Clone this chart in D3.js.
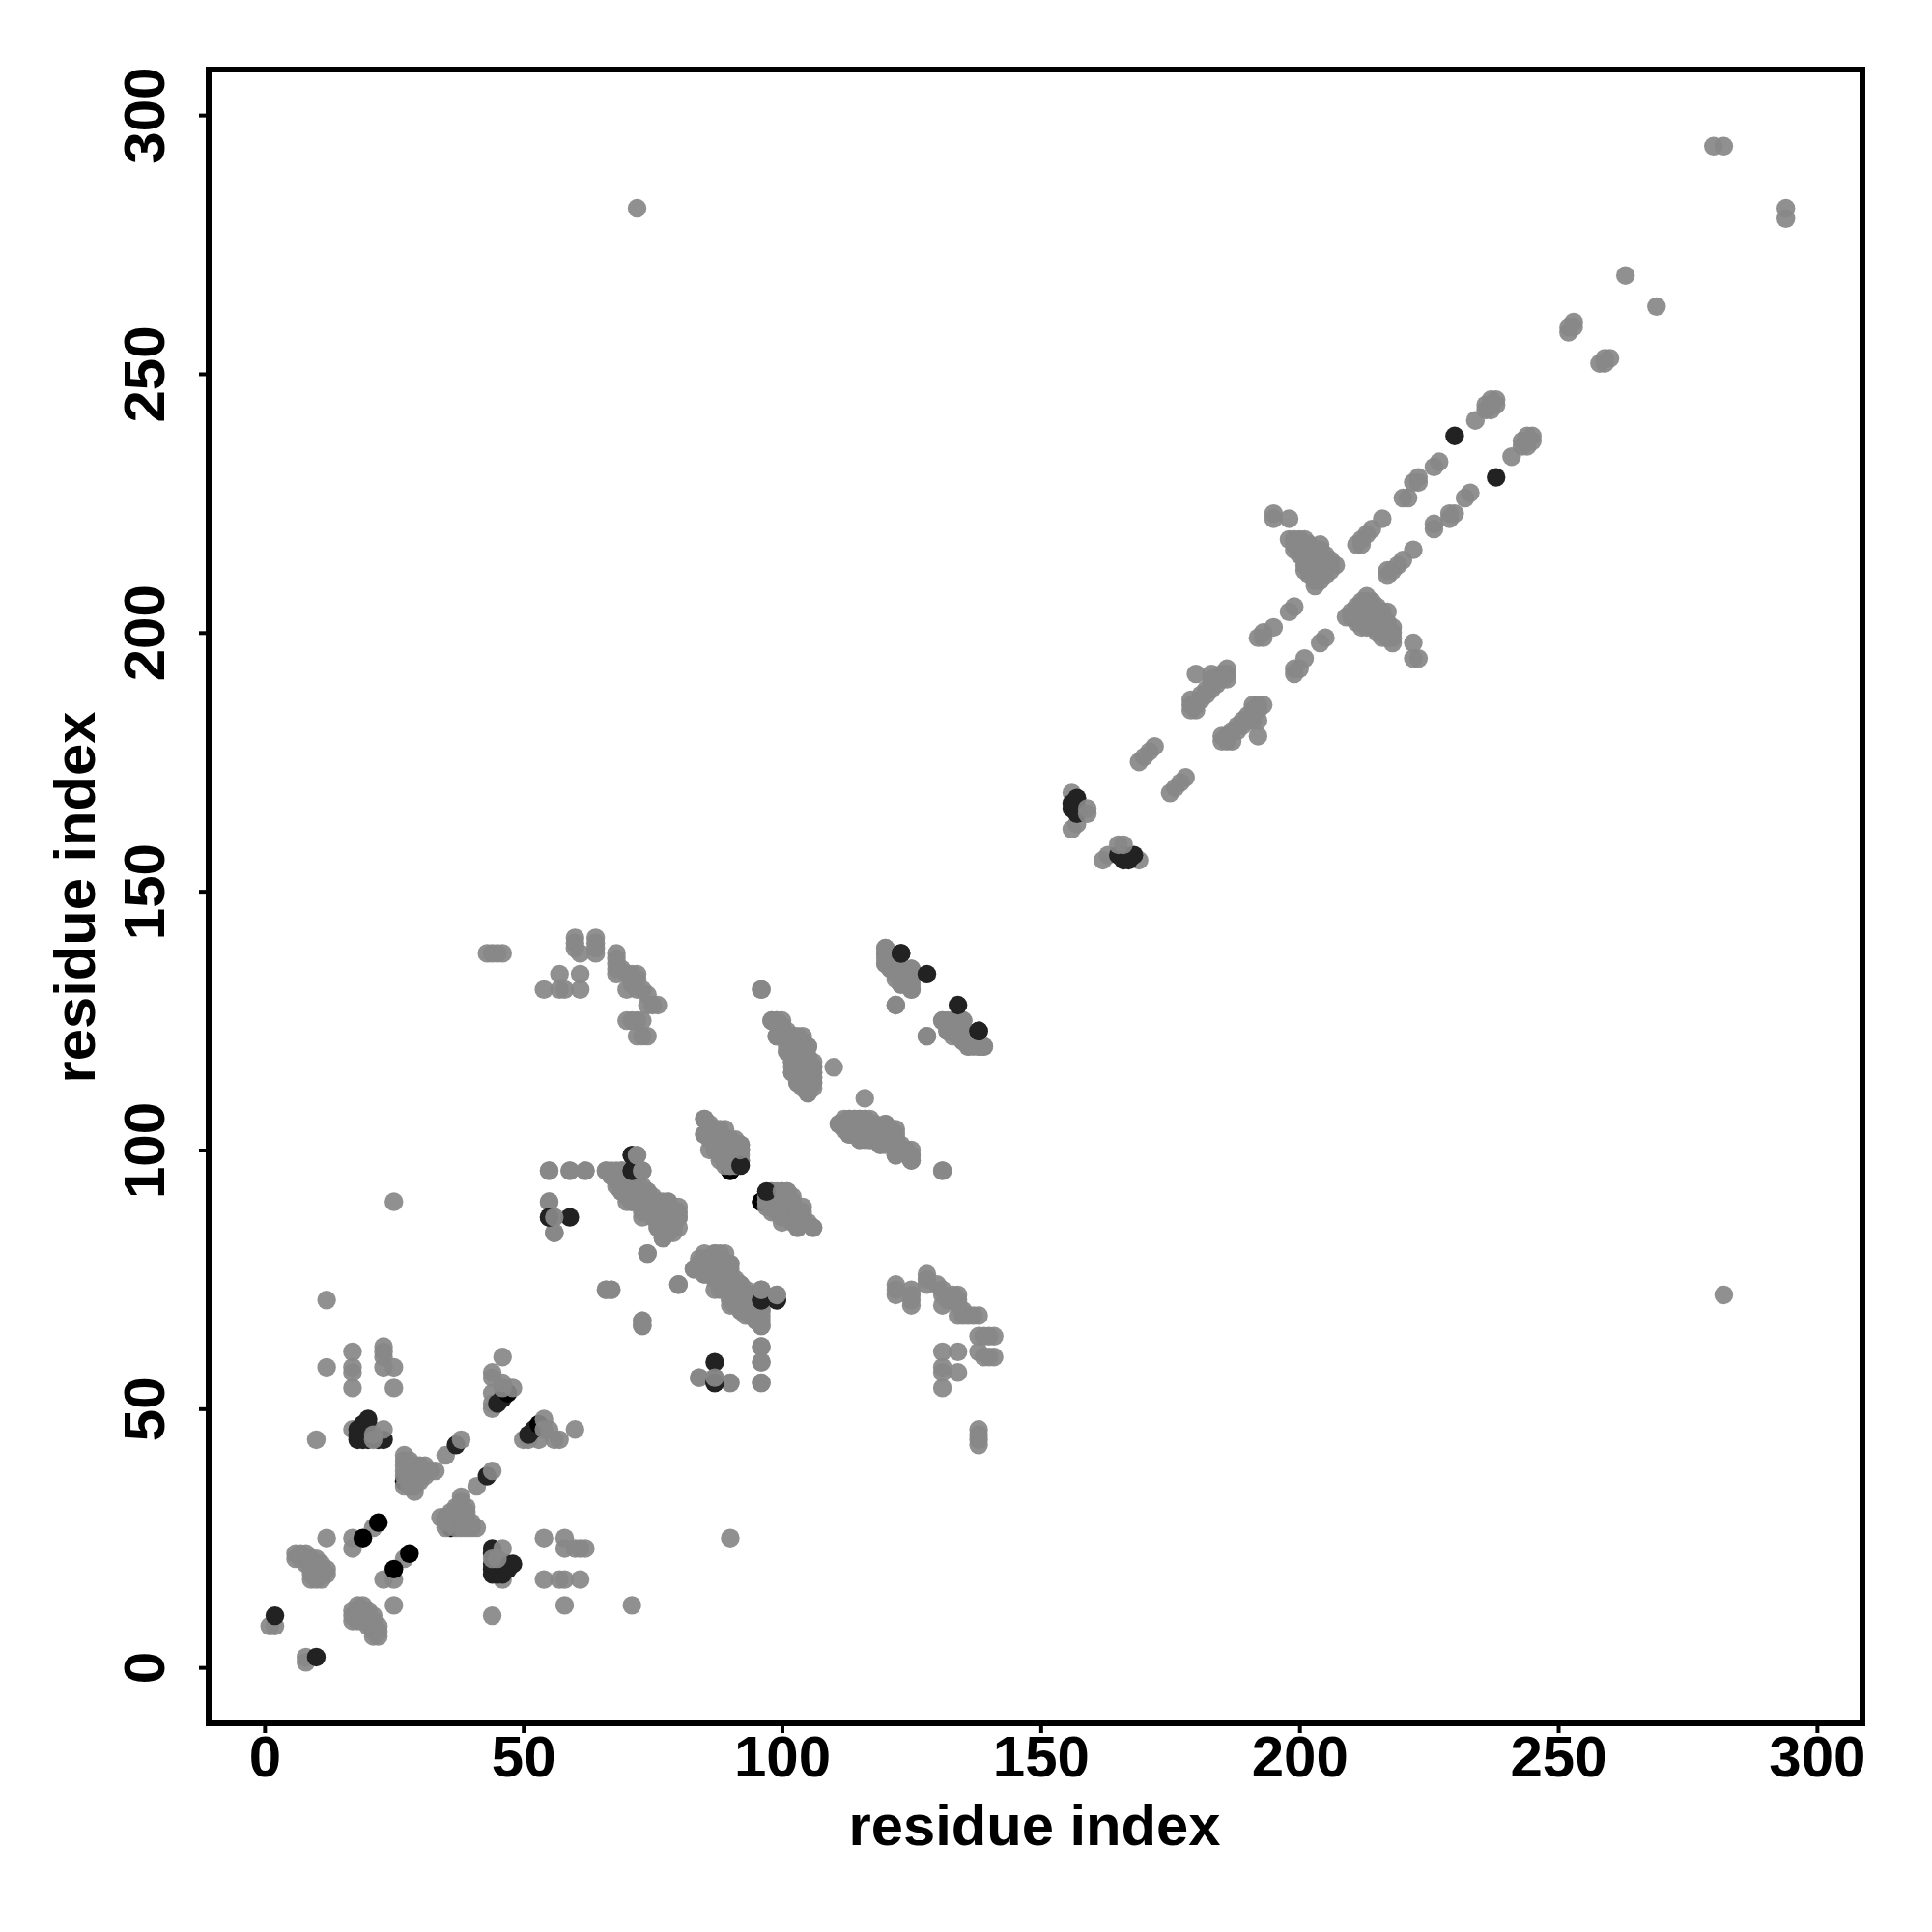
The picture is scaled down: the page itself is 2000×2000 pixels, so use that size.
<!DOCTYPE html>
<html>
<head>
<meta charset="utf-8">
<script src="https://cdn.jsdelivr.net/npm/d3@7"></script>
<style>html,body{margin:0;padding:0;background:#fff}svg{display:block}</style>
</head>
<body>
<script>
// Contacts as [i, j] with i < j; the map is symmetric, so each one is also drawn as [j, i].
const underDarkContacts = [[27,36],[90,96],[96,90]];
const greyContacts = [
[1,8],[2,8],[6,21],[6,22],[7,21],[7,22],[8,20],[8,21],[8,22],[9,17],[9,18],[9,19],[9,20],[9,21],[10,17],[10,18],[10,19],[10,20],[10,21],[11,17],[11,18],[11,19],[11,20],[12,18],[12,19],
[12,25],[17,23],[17,25],[21,27],[12,58],[12,71],[10,44],[17,54],[17,57],[17,58],[17,61],[23,58],[23,60],[23,61],[23,62],[25,54],[25,58],
[17,46],[35,41],[44,50],[44,51],[44,53],[44,56],[44,57],[46,60],
[27,37],[27,38],[27,39],[27,40],[27,41],[28,36],[28,37],[28,38],[28,39],[28,40],[29,34],[29,35],[29,36],[29,37],[29,38],[29,39],[30,36],[30,37],[30,38],[30,39],[31,37],[31,38],[31,39],[32,38],[33,38],[28,35],[27,35],
[55,96],[59,96],[62,96],[66,96],[55,90],[56,84],[56,87],[67,95],[69,96],[68,94],[69,94],[70,94],[71,94],[68,93],[71,93],[72,93],[69,92],[72,92],[74,92],[70,91],[72,91],[74,91],[71,92],[71,90],[72,90],[73,90],[74,90],[76,90],[73,89],[74,89],[75,89],[76,89],[73,91],[73,93],[75,90],[75,88],[73,88],[77,89],[75,87],[76,87],[77,87],[78,87],[78,88],[79,87],[76,86],[77,86],[78,86],[77,85],[78,85],[79,85],[77,84],[78,90],[79,88],[80,88],[80,87],[79,86],[76,85],[78,84],[77,83],[74,80],
[66,73],[67,73],[73,67],[73,66],[80,74],[83,77],[84,78],[85,78],[84,79],[85,80],[86,79],[87,79],[88,79],[87,80],[89,80],[87,78],[88,78],[89,78],[90,78],[88,77],[89,77],[90,77],[90,76],[86,77],[85,76],[87,76],[89,75],[88,75],[88,74],[91,75],[87,73],[89,73],[90,73],[91,73],[92,73],[92,74],[92,72],[90,72],[91,72],[93,72],[93,71],[93,70],[92,71],[92,70],[90,71],[91,70],[90,70],[91,71],[94,72],[94,71],[95,71],[94,70],[95,70],[95,69],[94,69],[93,69],[94,68],[95,68],[95,67],[96,67],[96,69],[96,70],[92,69],[96,68],[96,66],[96,62],[96,59],[96,55],[84,56],[90,55],[90,25],
[85,106],[85,103],[86,105],[86,104],[86,103],[87,103],[88,103],[88,104],[89,104],[87,102],[88,102],[89,102],[90,102],[87,101],[88,101],[89,101],[90,101],[88,99],[89,99],[90,99],[89,100],[90,100],[91,100],[91,99],[90,98],[91,102],[91,101],[92,99],[90,97],[91,98],[92,98],[92,100],[92,101],
[97,91],[98,92],[97,90],[98,91],[98,90],[97,89],[98,88],[99,91],[99,90],[99,89],[99,88],[100,91],[100,90],[100,88],[100,87],[101,92],[101,91],[101,90],[101,89],[101,88],[102,89],[102,88],[102,87],[102,86],[103,87],[103,86],[104,87],[104,86],[100,86],[100,89],[102,90],[103,88],[103,85],[106,85],
[96,131],[98,125],[99,125],[100,125],[100,124],[100,123],[101,123],[99,122],[101,122],[101,121],[102,121],[102,122],[104,122],[103,120],[104,120],[105,120],[101,119],[102,119],[103,119],[104,119],[103,118],[104,118],[105,118],[102,117],[103,117],[104,117],[105,117],[102,116],[103,116],[104,116],[102,115],[103,115],[104,115],[105,115],[106,115],[105,116],[106,116],[103,114],[104,114],[105,114],[106,114],[103,113],[104,113],[105,113],[106,113],[104,112],[105,112],[105,111],[110,116],
[111,105],[112,106],[113,106],[114,106],[115,106],[116,106],[117,106],[112,105],[113,105],[114,105],[115,105],[116,105],[114,104],[113,104],[115,104],[116,104],[113,103],[114,103],[116,103],[118,103],[117,102],[115,102],[120,105],[120,104],[121,104],[120,103],[121,103],[122,103],[120,102],[121,102],[122,102],[119,101],[120,101],[122,101],[123,100],[122,99],[125,99],[125,98],[131,96],[122,128],
[120,139],[120,138],[120,136],[121,137],[121,135],[122,136],[122,134],[123,135],[124,134],[123,133],[125,133],[124,132],[125,135],[123,132],[125,131],[128,122],[131,125],[132,125],[132,123],[133,124],[133,122],[134,123],[135,123],[135,121],[135,125],[134,122],[136,120],[136,121],[137,121],[137,120],[138,120],[139,120],
[43,138],[44,138],[45,138],[46,138],[60,141],[60,140],[60,139],[61,138],[64,141],[64,140],[64,139],[64,138],[57,134],[61,134],[54,131],[57,131],[58,131],[61,131],
[68,138],[68,137],[68,136],[69,135],[68,135],[68,134],[70,134],[71,134],[72,134],[71,133],[72,133],[71,132],[72,131],[74,130],[70,131],[73,131],[74,128],[75,128],[76,128],[70,125],[71,125],[72,125],[73,125],[72,122],[73,122],[74,122],
[72,282],[156,169],[156,162],[157,163],[169,175],[170,176],[171,177],[172,178],[180,192],[183,192],[186,193],[186,192],[186,191],[185,192],[185,191],[184,190],[183,191],[183,190],[183,189],[182,189],[181,188],[181,187],[180,186],[180,185],[179,187],[179,186],[179,185],[182,188],
[192,199],[193,199],[193,200],[195,201],[198,204],[199,205],
[195,223],[195,222],[198,222],[198,218],[199,218],[200,218],[201,218],[199,217],[200,217],[202,217],[204,217],[199,216],[201,216],[202,216],[204,216],[200,215],[203,215],[205,214],[202,214],[201,214],[203,214],[204,214],[206,214],[205,215],[207,213],[201,213],[202,213],[203,213],[204,213],[205,213],[206,213],[201,212],[202,212],[203,212],[205,212],[206,212],[202,211],[203,211],[204,211],[205,211],[203,210],[204,210],[203,209],
[211,217],[212,217],[212,218],[213,219],[214,220],[216,222],[220,226],[221,226],[222,229],[223,229],[223,230],[226,232],[227,233],[234,241],[236,243],[236,244],[237,243],[237,244],[237,245],[238,244],[238,245],
[252,258],[252,259],[253,259],[253,260],[263,269],[280,294],[282,294]
];
const darkContacts = [
[2,10],[23,44],[22,44],[19,44],[18,44],[18,45],[19,45],[18,46],[19,46],[20,46],[19,47],[20,47],[20,48],[20,44],
[37,43],[45,51],[46,52],[55,87],[59,87],[87,55],[71,99],[71,96],[92,97],[96,71],[99,71],
[123,138],[128,134],[138,123],[156,166],[156,167],[157,165],[157,166],[157,168],[230,238]
];
const blackContacts = [[22,28],[19,25],[47,53]];
const topGreyContacts = [
[21,44],[21,45],[23,46],[38,44],[46,54],[46,55],[48,54],[72,99],[73,96],[99,72],[96,73],[100,92],[159,165],[159,166],[56,87]
];
const xTicks = [0,50,100,150,200,250,300];
const yTicks = [0,50,100,150,200,250,300];
const axisLabel = "residue index";

const svg = d3.select("body").append("svg").attr("width",2000).attr("height",2000).style("font-family","'Liberation Sans'").style("font-weight","700");
const x = d3.scaleLinear().domain([-10.8,308.8]).range([216,1928]);
const y = d3.scaleLinear().domain([-10.8,308.8]).range([1784,72]);

function layer(pairs, fill, opacity){
  const both = pairs.flatMap(([i,j]) => [[i,j],[j,i]]);
  svg.append("g").selectAll("circle").data(both).join("circle")
    .attr("cx",d=>x(d[0])).attr("cy",d=>y(d[1])).attr("r",9.7)
    .attr("fill",fill).attr("fill-opacity",opacity);
}
layer(underDarkContacts,"#000",1);
layer(greyContacts,"#888",0.93);
layer(darkContacts,"#222",1);
layer(blackContacts,"#000",1);
layer(topGreyContacts,"#888",0.93);

svg.append("rect").attr("x",216).attr("y",72).attr("width",1712).attr("height",1712)
  .attr("fill","none").attr("stroke","#000").attr("stroke-width",6);

const gx = svg.append("g").attr("transform","translate(0,1784)")
  .call(d3.axisBottom(x).tickValues(xTicks).tickSize(10).tickPadding(1).tickFormat(d3.format("d")));
const gy = svg.append("g").attr("transform","translate(216,0)")
  .call(d3.axisLeft(y).tickValues(yTicks).tickSize(10).tickFormat(d3.format("d")));
[gx,gy].forEach(g=>{
  g.select(".domain").remove();
  g.selectAll(".tick line").attr("stroke","#000").attr("stroke-width",4);
  g.selectAll("text").attr("fill","#000").style("font-size","60px").style("font-family","'Liberation Sans'").style("font-weight","700");
});
gx.selectAll("text").attr("dy",null).attr("y",55).attr("dominant-baseline","auto");
gy.selectAll("text").attr("dy",null).attr("x",null).attr("y",null)
  .attr("text-anchor","middle").attr("transform","translate(-46,0) rotate(-90)");

svg.append("text").attr("x",1071).attr("y",1910).attr("text-anchor","middle").style("font-size","59.7px").text(axisLabel);
svg.append("text").attr("transform","translate(98,929) rotate(-90)").attr("text-anchor","middle").style("font-size","59.7px").text(axisLabel);
</script>
</body>
</html>
